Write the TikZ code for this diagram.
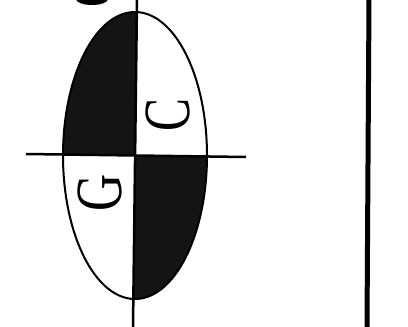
\documentclass[tikz,border=0pt]{standalone}
\usepackage{fontspec}
\setmainfont{Liberation Serif}
\tikzset{
  axisline/.style={line width=2.5pt, black},
  letter/.style={inner sep=0pt, rotate=90, font=\fontsize{66}{66}\selectfont}
}
\begin{document}
\begin{tikzpicture}[x=1pt,y=-1pt]
\useasboundingbox (0,0) rectangle (408,327);
% black quadrants
\begin{scope}
  \clip (135,155.5) ellipse [x radius=72, y radius=143.5];
  \fill[black!92] (0,0) -- (137,0) -- (135,155) -- (0,155) -- cycle;
  \fill[black!92] (135,155) -- (260,156) -- (260,327) -- (133,327) -- cycle;
\end{scope}
% ellipse outline
\draw[line width=2pt] (135,155.5) ellipse [x radius=72, y radius=143.5];
% blob at top
\fill (92,-1) ellipse [x radius=16, y radius=6];
% axes
\coordinate (vt) at (137,0);
\coordinate (vb) at (133,327);
\coordinate (hl) at (26,154);
\coordinate (hr) at (246,157);
\draw[axisline] (vt) -- (vb);
\draw[axisline] (hl) -- (hr);
% right line
\coordinate (rt) at (369,0);
\coordinate (rb) at (367,327);
\draw[line width=5pt] (rt) -- (rb);
% letters
\node[letter] (c) at (168,115) {\scalebox{0.75}[1]{C}};
\node[letter] (g) at (100,193) {\scalebox{0.78}[1]{G}};
\end{tikzpicture}
\end{document}
